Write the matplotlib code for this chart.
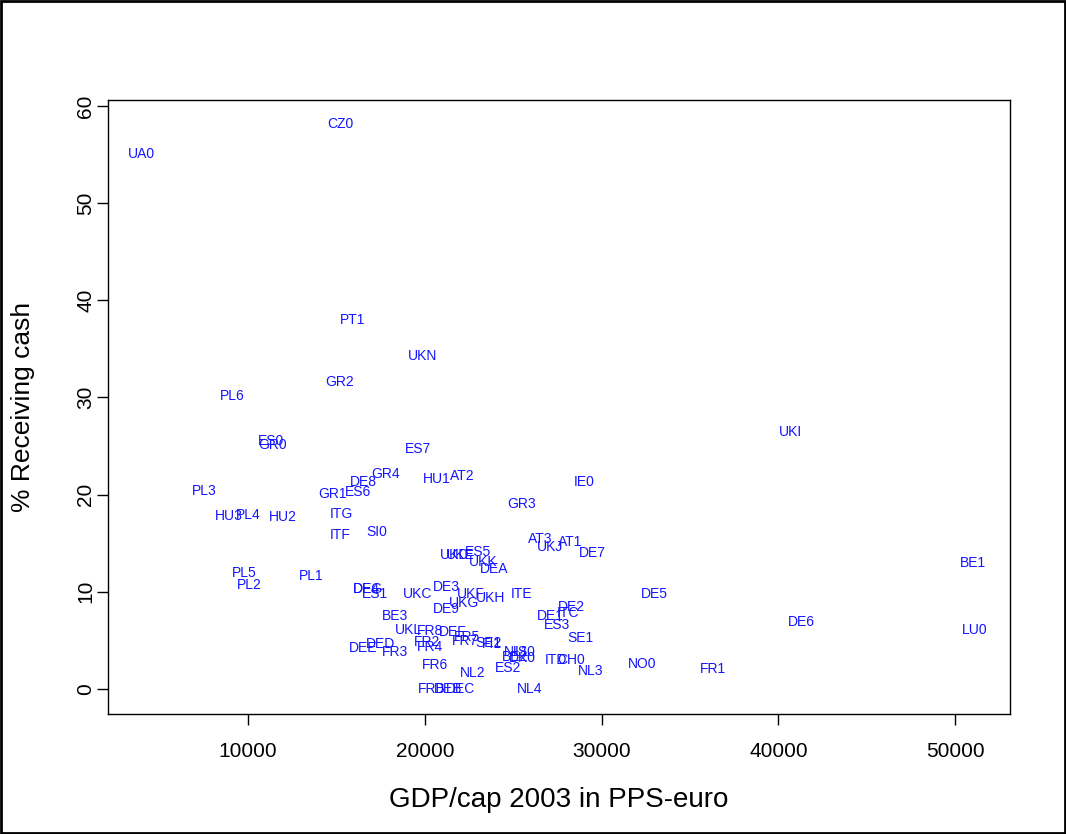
import matplotlib.pyplot as plt
from matplotlib.patches import Rectangle

# region codes, GDP per capita 2003 (PPS-euro) and % receiving cash
codes = ["UA0", "CZ0", "PT1", "UKN", "GR2", "PL6", "UKI", "ES0", "GR0", "ES7",
         "GR4", "DE8", "HU1", "AT2", "IE0", "PL3", "GR1", "ES6", "GR3", "HU3",
         "PL4", "HU2", "ITG", "SI0", "ITF", "AT3", "UKJ", "AT1", "DE7", "UKD",
         "UKE", "ES5", "UKK", "DEA", "PL5", "PL2", "PL1", "BE1", "DE4", "DEG",
         "ES1", "UKC", "DE3", "UKF", "UKG", "UKH", "ITE", "DE9", "DE5", "DE2",
         "ITC", "DE1", "ES3", "SE1", "BE3", "UKL", "FR8", "DEF", "FR5", "FR7",
         "SE2", "FI1", "NL1", "IS0", "BE2", "DK0", "ITD", "CH0", "NL3", "NO0",
         "FR1", "ES2", "NL2", "FR6", "NL4", "FRB", "DEB", "DEC", "FR2", "FR4",
         "FR3", "DEE", "DED", "LU0", "DE6"]
gdp = [4000, 15200, 15900, 19900, 15200, 9100, 40700, 11300, 11400, 19600,
       17800, 16500, 20700, 22100, 29000, 7500, 14800, 16200, 25500, 8900,
       10000, 12000, 15300, 17300, 15200, 26500, 27100, 28200, 29500, 21700,
       22000, 23000, 23300, 23900, 9800, 10100, 13600, 51000, 16700, 16800,
       17200, 19600, 21200, 22600, 22200, 23700, 25500, 21200, 33000, 28300,
       28100, 27100, 27500, 28800, 18300, 19100, 20300, 21600, 22400, 22300,
       23600, 23800, 25200, 25700, 25100, 25500, 27400, 28300, 29400, 32300,
       36300, 24700, 22700, 20600, 25900, 20400, 21300, 22000, 20100, 20300,
       18300, 16500, 17500, 51100, 41300]
cash = [55.0, 58.1, 38.0, 34.3, 31.6, 30.1, 26.4, 25.5, 25.1, 24.7,
        22.1, 21.3, 21.6, 21.9, 21.3, 20.4, 20.1, 20.3, 19.0, 17.8,
        17.9, 17.7, 18.0, 16.2, 15.8, 15.4, 14.6, 15.1, 14.0, 13.8,
        13.8, 14.1, 13.1, 12.3, 11.9, 10.7, 11.6, 13.0, 10.3, 10.3,
        9.8, 9.8, 10.5, 9.8, 8.9, 9.4, 9.8, 8.2, 9.8, 8.4,
        7.8, 7.5, 6.6, 5.2, 7.5, 6.1, 6.0, 5.9, 5.4, 4.9,
        4.7, 4.6, 3.8, 3.8, 3.3, 3.2, 3.0, 3.0, 1.9, 2.6,
        2.1, 2.2, 1.6, 2.5, 0.0, 0.0, 0.0, 0.0, 4.8, 4.3,
        3.8, 4.2, 4.6, 6.1, 6.9]

xticks = [10000, 20000, 30000, 40000, 50000]
yticks = [0, 10, 20, 30, 40, 50, 60]

plt.rcParams['font.family'] = ['Liberation Sans', 'DejaVu Sans']

fig = plt.figure(figsize=(10.66, 8.34), dpi=100)
ax = fig.add_axes([0.1013, 0.1439, 0.8462, 0.7362])

for c, x, y in zip(codes, gdp, cash):
    ax.text(x, y, c, color='#1414ff', fontsize=10, ha='center', va='center')

ax.set_xlim(2080, 53100)
ax.set_ylim(-2.57, 60.6)
ax.set_xticks(xticks)
ax.set_yticks(yticks)
ax.set_yticklabels([str(v) for v in yticks], rotation=90, va='center')
ax.tick_params(axis='both', direction='out', length=8, width=1, labelsize=15)
ax.tick_params(axis='x', pad=12)
ax.tick_params(axis='y', pad=1)
for s in ax.spines.values():
    s.set_linewidth(1)
ax.set_xlabel("GDP/cap 2003 in PPS-euro", fontsize=20, labelpad=19)
ax.set_ylabel("% Receiving cash", fontsize=19, labelpad=30)

# frame round the whole figure
fig.patches.append(Rectangle((0.001, 0.001), 0.998, 0.998, transform=fig.transFigure,
                             fill=False, edgecolor='black', linewidth=2))

fig.savefig("out.png", dpi=100)
